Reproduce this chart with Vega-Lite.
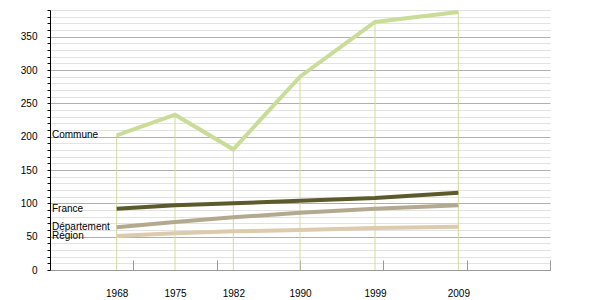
{
  "$schema": "https://vega.github.io/schema/vega-lite/v6.json",
  "width": 500,
  "height": 260,
  "autosize": {"type": "none"},
  "padding": {"left": 50, "top": 10, "right": 50, "bottom": 30},
  "background": "white",
  "config": {"view": {"stroke": null}, "font": "Liberation Sans"},
  "datasets": {
    "pop": [
      {"year": 1968, "series": "Commune", "value": 202},
      {"year": 1975, "series": "Commune", "value": 233},
      {"year": 1982, "series": "Commune", "value": 181},
      {"year": 1990, "series": "Commune", "value": 290},
      {"year": 1999, "series": "Commune", "value": 372},
      {"year": 2009, "series": "Commune", "value": 387},
      {"year": 1968, "series": "France", "value": 92},
      {"year": 1975, "series": "France", "value": 97},
      {"year": 1982, "series": "France", "value": 100},
      {"year": 1990, "series": "France", "value": 104},
      {"year": 1999, "series": "France", "value": 108},
      {"year": 2009, "series": "France", "value": 116},
      {"year": 1968, "series": "Département", "value": 64},
      {"year": 1975, "series": "Département", "value": 72},
      {"year": 1982, "series": "Département", "value": 79},
      {"year": 1990, "series": "Département", "value": 86},
      {"year": 1999, "series": "Département", "value": 92},
      {"year": 2009, "series": "Département", "value": 97},
      {"year": 1968, "series": "Région", "value": 51},
      {"year": 1975, "series": "Région", "value": 55},
      {"year": 1982, "series": "Région", "value": 58},
      {"year": 1990, "series": "Région", "value": 60},
      {"year": 1999, "series": "Région", "value": 63},
      {"year": 2009, "series": "Région", "value": 65}
    ]
  },
  "data": {"name": "pop"},
  "encoding": {
    "x": {"field": "year", "type": "quantitative",
          "scale": {"domain": [1960, 2020], "nice": false, "zero": false},
          "axis": {"values": [1968, 1970, 1975, 1980, 1982, 1990, 1999, 2000, 2009, 2010, 2020],
                   "labelExpr": "(datum.value === 1968 || datum.value === 1975 || datum.value === 1982 || datum.value === 1990 || datum.value === 1999 || datum.value === 2009) ? datum.label : ''",
                   "format": "d",
                   "tickSize": -10,
                   "tickOpacity": {"condition": {"test": "datum.value % 10 === 0", "value": 1}, "value": 0},
                   "tickColor": "#999999",
                   "grid": false, "domainColor": "#999999", "labelPadding": 28, "labelFontSize": 10,
                   "labelColor": "#000000", "labelFlush": false, "labelOverlap": false, "title": null}},
    "y": {"field": "value", "type": "quantitative",
          "scale": {"domain": [0, 390], "nice": false},
          "axis": {"values": [0,10,20,30,40,50,60,70,80,90,100,110,120,130,140,150,160,170,180,190,200,210,220,230,240,250,260,270,280,290,300,310,320,330,340,350,360,370,380,390],
                   "labelExpr": "datum.value % 50 === 0 ? datum.label : ''",
                   "grid": true,
                   "gridColor": {"condition": {"test": "datum.value % 50 === 0", "value": "#b0b0b0"}, "value": "#e2e2e2"},
                   "gridWidth": 1,
                   "tickSize": 3, "tickColor": "#000000", "domainColor": "#000000",
                   "labelPadding": 10, "labelFontSize": 10, "labelColor": "#000000",
                   "labelOverlap": false,
                   "title": null}}
  },
  "layer": [
    {
      "transform": [{"filter": "datum.series === 'Commune'"}],
      "mark": {"type": "rule", "color": "#d2dc9a", "strokeWidth": 1},
      "encoding": {
        "y2": {"datum": 0}
      }
    },
    {
      "mark": {"type": "line", "strokeWidth": 4},
      "encoding": {
        "color": {"field": "series", "type": "nominal", "legend": null,
                  "scale": {"domain": ["Commune", "France", "Département", "Région"],
                            "range": ["#c9dc98", "#5c5a2a", "#b2a98f", "#dccbad"]}},
        "detail": {"field": "series"}
      }
    },
    {
      "transform": [{"filter": "datum.year === 1968"}],
      "mark": {"type": "text", "align": "left", "baseline": "middle", "dx": 2, "fontSize": 10, "color": "#000000"},
      "encoding": {
        "x": {"datum": 1960, "type": "quantitative"},
        "text": {"field": "series"}
      }
    }
  ]
}
